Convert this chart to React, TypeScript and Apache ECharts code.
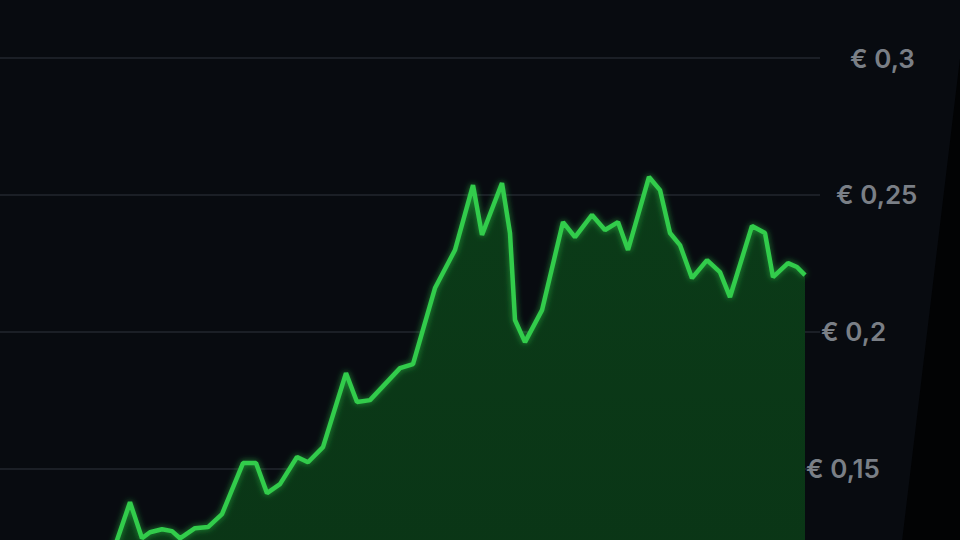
import React, { useEffect, useRef } from "react";
import * as echarts from "echarts";

// time index (arbitrary units) and price in euro
const times = [20.8, 26, 28.4, 30, 32.4, 34.4, 36, 39, 41.6, 44.4, 48.6, 51.2, 53.4, 56, 59.4, 61.6, 64.6, 69.2, 71.4, 74, 80, 82.6, 87, 91, 94.6, 96.4, 100.4, 102, 103, 105, 108.4, 112.6, 115, 118.4, 121, 123.6, 125.6, 129.8, 132, 134, 136, 138.4, 141.4, 144, 146, 150.4, 153, 154.6, 157.6, 159.4, 161];
const prices = [0.1098, 0.1376, 0.1244, 0.1266, 0.1277, 0.127, 0.1244, 0.1281, 0.1285, 0.1332, 0.1519, 0.1519, 0.1409, 0.1442, 0.1541, 0.1522, 0.1577, 0.1848, 0.1742, 0.1749, 0.1866, 0.1881, 0.2159, 0.2298, 0.2535, 0.2353, 0.2543, 0.236, 0.2042, 0.1961, 0.2078, 0.24, 0.2345, 0.2426, 0.2371, 0.24, 0.2298, 0.2565, 0.2517, 0.236, 0.2316, 0.2195, 0.2261, 0.2217, 0.2126, 0.2386, 0.236, 0.2199, 0.225, 0.2236, 0.2206];
const tickValues = [0.15, 0.2, 0.25, 0.3];
const tickLabels = ["€ 0,15", "€ 0,2", "€ 0,25", "€ 0,3"];
const tickShift = [0, 15, 30, 44];

export default function App() {
  const ref = useRef<HTMLDivElement>(null);
  useEffect(() => {
    if (!ref.current) return;
    const chart = echarts.init(ref.current, null, { renderer: "svg" });
    const rich: Record<string, any> = {};
    tickValues.forEach((_, i) => {
      rich["t" + i] = {
        color: "#7a7f86",
        fontSize: 26,
        fontWeight: 600,
        fontFamily: "Inter, Roboto, sans-serif",
        padding: [0, 0, 0, tickShift[i]],
      };
    });
    chart.setOption({
      animation: false,
      backgroundColor: "#080b10",
      grid: { left: 0, right: 140, top: 58, bottom: 95 },
      xAxis: {
        type: "value",
        min: 0,
        max: 164,
        show: false,
      },
      yAxis: {
        type: "value",
        position: "right",
        min: 0.1,
        max: 0.3,
        interval: 0.05,
        axisLine: { show: false },
        axisTick: { show: false },
        splitLine: { lineStyle: { color: "#1b1f26", width: 2 } },
        axisLabel: {
          margin: -14,
          formatter: (v: number) => {
            const r = Number(v.toFixed(2));
            const i = tickValues.findIndex((t) => Math.abs(t - r) < 1e-6);
            if (i < 0) return "";
            return "{t" + i + "|" + tickLabels[i] + "}";
          },
          rich,
        },
      },
      graphic: [
        {
          type: "polygon",
          shape: { points: [[967, 0], [960, 0], [960, 700], [883, 700]] },
          style: { fill: "#020304" },
          z: 100,
        },
      ],
      series: [
        {
          type: "line",
          data: times.map((t, i) => [t, prices[i]]),
          symbol: "none",
          lineStyle: {
            color: "#30cc4b",
            width: 4.5,
            shadowColor: "rgba(50,220,80,0.6)",
            shadowBlur: 6,
          },
          areaStyle: {
            opacity: 1,
            color: new echarts.graphic.LinearGradient(0, 0, 0, 1, [
              { offset: 0, color: "#0b3b18" },
              { offset: 1, color: "#0a3516" },
            ]),
          },
        },
      ],
    });
    return () => chart.dispose();
  }, []);
  return (
    <div
      ref={ref}
      style={{ position: "fixed", left: 0, top: 0, width: 960, height: 700, background: "#080b10" }}
    />
  );
}
